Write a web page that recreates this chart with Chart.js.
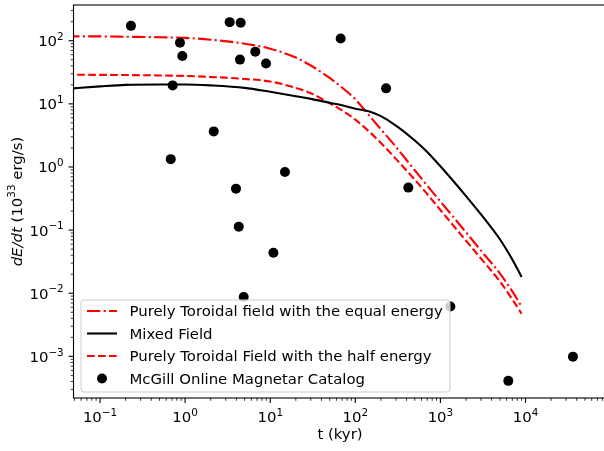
<!DOCTYPE html>
<html>
<head>
<meta charset="utf-8">
<script src="https://cdn.jsdelivr.net/npm/chart.js@4/dist/chart.umd.min.js"></script>
<style>
  html, body { margin: 0; padding: 0; background: #fff; overflow: hidden; }
  .chart-container { position: relative; width: 620px; height: 451px; }
</style>
</head>
<body>
<div class="chart-container"><canvas id="mag-chart"></canvas></div>
<script>
// Model curves (t in kyr, dE/dt in 1e33 erg/s)
const tGrid = [0.04, 0.1, 0.2, 0.5, 1, 2, 5, 10, 20, 30, 50, 70, 100, 150, 200, 300, 500, 700, 1000, 2000, 3000, 5000, 7000, 9000];
const equalEnergy = [117, 117, 115.6, 113.5, 111, 103.7, 89.7, 74.8, 54.1, 40.5, 25.7, 18.1, 11.8, 6.25, 3.95, 2.08, 0.887, 0.506, 0.284, 0.0922, 0.0473, 0.0206, 0.0107, 0.00614];
const mixedField = [17.3, 18.9, 20.0, 20.3, 20.3, 19.6, 17.9, 15.5, 13.2, 12.0, 10.4, 9.51, 8.38, 7.51, 6.38, 4.53, 2.63, 1.73, 1.026, 0.346, 0.177, 0.0716, 0.0341, 0.0181];
const halfEnergy = [28.9, 28.8, 28.6, 28.2, 27.7, 26.7, 24.8, 22.6, 17.9, 14.7, 10.2, 7.85, 5.62, 3.5, 2.40, 1.345, 0.629, 0.372, 0.208, 0.0679, 0.0354, 0.0154, 0.00802, 0.00474];

// McGill catalog points
const catalogAge = [0.231, 0.87, 0.927, 0.714, 0.678, 2.17, 3.34, 4.5, 4.41, 6.68, 8.93, 14.9, 3.96, 4.27, 10.9, 4.88, 67.3, 230, 420, 1308, 6280, 36100];
const catalogLum = [172, 93, 57.4, 19.6, 1.33, 3.66, 197, 192, 50.2, 67.1, 43.5, 0.832, 0.454, 0.1135, 0.0437, 0.00869, 108.6, 17.6, 0.471, 0.00618, 0.000409, 0.00099];

// Axis ticks (powers of ten)
const xTickPowers = [-1, 0, 1, 2, 3, 4];
const yTickPowers = [-3, -2, -1, 0, 1, 2];

const labels = [
  "Purely Toroidal field with the equal energy",
  "Mixed Field",
  "Purely Toroidal Field with the half energy",
  "McGill Online Magnetar Catalog",
];

const FONT = '"DejaVu Sans", sans-serif';
const FS = 14.9;
const FS_SUP = 10.4;
const LW = 2.1;
const dashDot = [13.3, 3.3, 2.1, 3.3];
const dashed = [7.7, 3.3];

function pairs(xs, ys) {
  return xs.map((x, i) => ({ x: x, y: ys[i] }));
}

function powLabel(ctx, exp, x, y, align) {
  const base = "10";
  const sup = exp < 0 ? "\u2212" + (-exp) : String(exp);
  ctx.font = FS + "px " + FONT;
  const wb = ctx.measureText(base).width;
  ctx.font = FS_SUP + "px " + FONT;
  const ws = ctx.measureText(sup).width;
  const x0 = align === "center" ? x - (wb + ws) / 2 : x - wb - ws;
  ctx.textAlign = "left";
  ctx.textBaseline = "alphabetic";
  ctx.font = FS + "px " + FONT;
  ctx.fillText(base, x0, y);
  ctx.font = FS_SUP + "px " + FONT;
  ctx.fillText(sup, x0 + wb, y - 6.3);
}

// Draws spines, log ticks, labels and the legend the matplotlib way
const decorPlugin = {
  id: "decor",
  afterDraw(chart) {
    const ctx = chart.ctx;
    const area = chart.chartArea;
    const xs = chart.scales.x;
    const ys = chart.scales.y;
    ctx.save();
    ctx.fillStyle = "#000";
    ctx.strokeStyle = "#000";

    // ticks
    for (let e = -2; e <= 5; e++) {
      for (let k = 1; k <= 9; k++) {
        const v = k * Math.pow(10, e);
        if (v < xs.min || v > xs.max) continue;
        const px = xs.getPixelForValue(v);
        ctx.lineWidth = k === 1 ? 1.1 : 0.8;
        const len = k === 1 ? 4.9 : 2.8;
        ctx.beginPath();
        ctx.moveTo(px, area.bottom);
        ctx.lineTo(px, area.bottom + len);
        ctx.stroke();
      }
    }
    for (let e = -4; e <= 3; e++) {
      for (let k = 1; k <= 9; k++) {
        const v = k * Math.pow(10, e);
        if (v < ys.min || v > ys.max) continue;
        const py = ys.getPixelForValue(v);
        ctx.lineWidth = k === 1 ? 1.1 : 0.8;
        const len = k === 1 ? 4.9 : 2.8;
        ctx.beginPath();
        ctx.moveTo(area.left, py);
        ctx.lineTo(area.left - len, py);
        ctx.stroke();
      }
    }

    // tick labels
    xTickPowers.forEach((p) => {
      powLabel(ctx, p, xs.getPixelForValue(Math.pow(10, p)), 422, "center");
    });
    yTickPowers.forEach((p) => {
      powLabel(ctx, p, area.left - 9.8, ys.getPixelForValue(Math.pow(10, p)) + 5.5, "right");
    });

    // spines
    ctx.lineWidth = 1.1;
    ctx.strokeRect(area.left, area.top, area.right - area.left, area.bottom - area.top);

    // x title
    ctx.font = FS + "px " + FONT;
    ctx.textAlign = "center";
    ctx.fillText("t (kyr)", (area.left + area.right) / 2, 438.5);

    // y title (rotated)
    ctx.save();
    ctx.translate(21.5, (area.top + area.bottom) / 2);
    ctx.rotate(-Math.PI / 2);
    const parts = [
      { t: "dE/dt", f: "italic " + FS + "px " + FONT, dy: 0 },
      { t: " (10", f: FS + "px " + FONT, dy: 0 },
      { t: "33", f: FS_SUP + "px " + FONT, dy: -6.3 },
      { t: " erg/s)", f: FS + "px " + FONT, dy: 0 },
    ];
    let total = 0;
    parts.forEach((p) => { ctx.font = p.f; p.w = ctx.measureText(p.t).width; total += p.w; });
    let cx = -total / 2;
    ctx.textAlign = "left";
    parts.forEach((p) => { ctx.font = p.f; ctx.fillText(p.t, cx, p.dy); cx += p.w; });
    ctx.restore();

    // legend
    const lx = 81, ly = 300, lw = 369, lh = 92;
    ctx.beginPath();
    ctx.roundRect(lx, ly, lw, lh, 3);
    ctx.fillStyle = "rgba(255,255,255,0.8)";
    ctx.fill();
    ctx.lineWidth = 1;
    ctx.strokeStyle = "#cccccc";
    ctx.stroke();
    const rows = [311, 333.5, 356, 378.5];
    chart.data.datasets.forEach((ds, i) => {
      const ry = rows[i];
      if (ds.showLine) {
        ctx.strokeStyle = ds.borderColor;
        ctx.lineWidth = LW;
        ctx.setLineDash(ds.borderDash || []);
        ctx.beginPath();
        ctx.moveTo(87, ry);
        ctx.lineTo(117, ry);
        ctx.stroke();
        ctx.setLineDash([]);
      } else {
        ctx.fillStyle = "#000";
        ctx.beginPath();
        ctx.arc(102, ry, 5, 0, Math.PI * 2);
        ctx.fill();
      }
      ctx.fillStyle = "#000";
      ctx.font = FS + "px " + FONT;
      ctx.textAlign = "left";
      ctx.fillText(ds.label, 129.5, ry + 5.3);
    });
    ctx.restore();
  },
};

const ctx = document.getElementById("mag-chart").getContext("2d");
new Chart(ctx, {
  type: "scatter",
  data: {
    datasets: [
      {
        label: labels[0],
        data: pairs(tGrid, equalEnergy),
        showLine: true,
        borderColor: "#ff0000",
        borderWidth: LW,
        borderDash: dashDot,
        pointRadius: 0,
        cubicInterpolationMode: "monotone",
        order: 3,
      },
      {
        label: labels[1],
        data: pairs(tGrid, mixedField),
        showLine: true,
        borderColor: "#000000",
        borderWidth: LW,
        pointRadius: 0,
        cubicInterpolationMode: "monotone",
        order: 2,
      },
      {
        label: labels[2],
        data: pairs(tGrid, halfEnergy),
        showLine: true,
        borderColor: "#ff0000",
        borderWidth: LW,
        borderDash: dashed,
        pointRadius: 0,
        cubicInterpolationMode: "monotone",
        order: 4,
      },
      {
        label: labels[3],
        data: pairs(catalogAge, catalogLum),
        showLine: false,
        backgroundColor: "#000000",
        borderWidth: 0,
        pointRadius: 5,
        order: 1,
      },
    ],
  },
  options: {
    responsive: true,
    maintainAspectRatio: false,
    animation: false,
    devicePixelRatio: 1,
    layout: { padding: { left: 0, right: 13.5, top: 2, bottom: 0 } },
    plugins: { legend: { display: false }, tooltip: { enabled: false } },
    scales: {
      x: {
        type: "logarithmic",
        min: 0.0488,
        max: 89500,
        grid: { display: false },
        border: { display: false },
        ticks: { display: false },
        afterFit(scale) { scale.height = 53; },
      },
      y: {
        type: "logarithmic",
        min: 2.19e-4,
        max: 368,
        grid: { display: false },
        border: { display: false },
        ticks: { display: false },
        afterFit(scale) { scale.width = 73.5; },
      },
    },
  },
  plugins: [decorPlugin],
});
</script>
</body>
</html>
